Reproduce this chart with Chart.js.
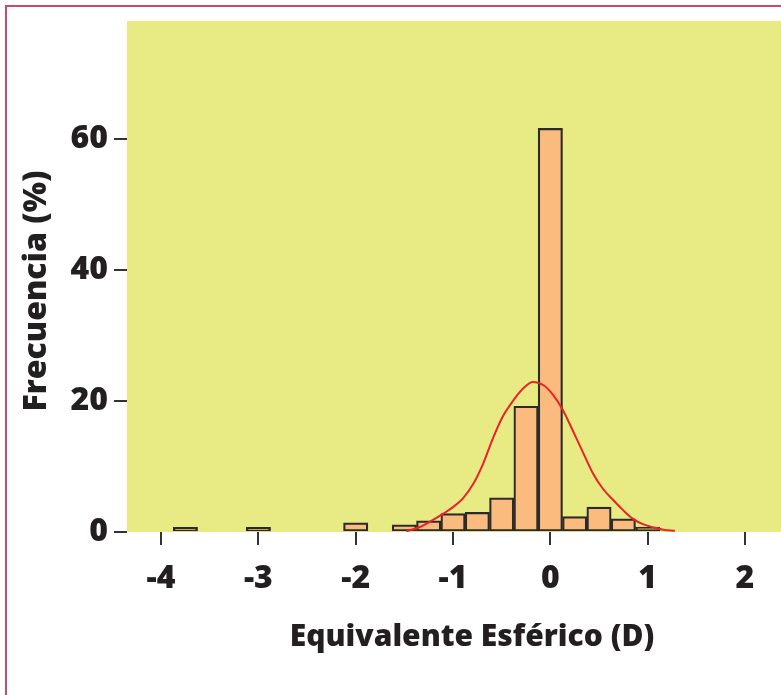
<!DOCTYPE html>
<html>
<head>
<meta charset="utf-8">
<script src="https://cdn.jsdelivr.net/npm/chart.js@4/dist/chart.umd.min.js"></script>
<style>
  html, body { margin: 0; padding: 0; background: #ffffff; }
  #wrap { position: relative; width: 781px; height: 695px; overflow: hidden; }
  canvas { display: block; }
</style>
</head>
<body>
<div id="wrap"><canvas id="c" width="781" height="695"></canvas></div>
<script>
// Histogram bins (centre of bin, diopters) and frequency (%)
const binCenters = [-3.75, -3.0, -2.0, -1.5, -1.25, -1.0, -0.75, -0.5, -0.25, 0.0, 0.25, 0.5, 0.75, 1.0];
const binFreq    = [0.7,   0.7,  1.4,  1.1,  1.7,   2.8,  3.0,   5.2,  19.2,  61.6, 2.35, 3.8, 2.0,  0.75];

// Fitted normal curve
const curveX = [-1.48, -1.34, -1.21, -1.10, -1.00, -0.90, -0.79, -0.69, -0.59, -0.49, -0.38, -0.28, -0.18,
                -0.07, 0.03, 0.13, 0.23, 0.34, 0.44, 0.54, 0.65, 0.75, 0.85, 0.95, 1.06, 1.16, 1.28];
const curveY = [0.1, 0.76, 1.8, 2.8, 3.8, 5.1, 7.4, 10.45, 14.3, 17.6, 20.1, 21.9, 22.9,
                22.4, 20.9, 18.6, 15.5, 12.0, 8.9, 6.6, 4.8, 3.3, 2.0, 1.2, 0.7, 0.35, 0.2];

const xTicks = [-4, -3, -2, -1, 0, 1, 2];
const yTicks = [0, 20, 40, 60];

const xTitle = 'Equivalente Esférico (D)';
const yTitle = 'Frecuencia (%)';

const FONT = '"Open Sans", "DejaVu Sans", sans-serif';
const TEXT = '#231f20';

const bgPlugin = {
  id: 'bg',
  beforeDraw(chart) {
    const { ctx, chartArea: a } = chart;
    ctx.save();
    ctx.fillStyle = '#e8ea84';
    ctx.fillRect(a.left, a.top, a.right - a.left, a.bottom - a.top);
    ctx.restore();
  },
  afterDraw(chart) {
    const ctx = chart.ctx;
    // axis titles
    ctx.save();
    ctx.fillStyle = TEXT;
    ctx.textAlign = 'center';
    ctx.textBaseline = 'middle';
    ctx.font = '800 30px ' + FONT;
    ctx.fillText(xTitle, 472, 637);
    ctx.font = '800 32px ' + FONT;
    ctx.translate(37, 291);
    ctx.rotate(-Math.PI / 2);
    ctx.fillText(yTitle, 0, 0);
    ctx.restore();

    // frame
    ctx.save();
    ctx.strokeStyle = '#c94a6e';
    ctx.lineWidth = 2;
    ctx.beginPath();
    ctx.moveTo(6, chart.height);
    ctx.lineTo(6, 6);
    ctx.lineTo(chart.width, 6);
    ctx.stroke();
    ctx.restore();
  }
};

new Chart(document.getElementById('c'), {
  data: {
    datasets: [
      {
        type: 'line',
        data: curveX.map((x, i) => ({ x: x, y: curveY[i] })),
        borderColor: '#e8232a',
        borderWidth: 2,
        pointRadius: 0,
        tension: 0.4,
        cubicInterpolationMode: 'monotone',
        fill: false,
        order: 0
      },
      {
        type: 'bar',
        data: binCenters.map((x, i) => ({ x: x, y: binFreq[i] })),
        backgroundColor: '#fbba7e',
        borderColor: '#2b2b2b',
        borderWidth: 2.2,
        borderSkipped: false,
        categoryPercentage: 1.0,
        barPercentage: 1.0,
        order: 1
      }
    ]
  },
  options: {
    responsive: false,
    animation: false,
    devicePixelRatio: 1,
    layout: { padding: { left: 0, right: 0, top: 21, bottom: 0 } },
    plugins: { legend: { display: false }, tooltip: { enabled: false } },
    scales: {
      x: {
        type: 'linear',
        offset: false,
        min: -4.35,
        max: 2.37,
        afterBuildTicks(scale) { scale.ticks = xTicks.map(v => ({ value: v })); },
        afterFit(scale) { scale.height = 163; scale.paddingLeft = 0; scale.paddingRight = 0; },
        border: { display: false },
        grid: { offset: false, drawOnChartArea: false, drawTicks: true, tickLength: 13, tickColor: '#333333', lineWidth: 2 },
        ticks: { color: TEXT, font: { family: FONT, size: 32, weight: 800 }, padding: 15, maxRotation: 0 },
        title: { display: false }
      },
      y: {
        type: 'linear',
        min: 0,
        max: 78,
        afterBuildTicks(scale) { scale.ticks = yTicks.map(v => ({ value: v })); },
        afterFit(scale) { scale.width = 127; scale.paddingTop = 0; scale.paddingBottom = 0; },
        border: { display: false },
        grid: { drawOnChartArea: false, drawTicks: true, tickLength: 13, tickColor: '#333333', lineWidth: 2 },
        ticks: { color: TEXT, font: { family: FONT, size: 32, weight: 800 }, padding: 6 },
        title: { display: false }
      }
    }
  },
  plugins: [bgPlugin]
});
</script>
</body>
</html>
